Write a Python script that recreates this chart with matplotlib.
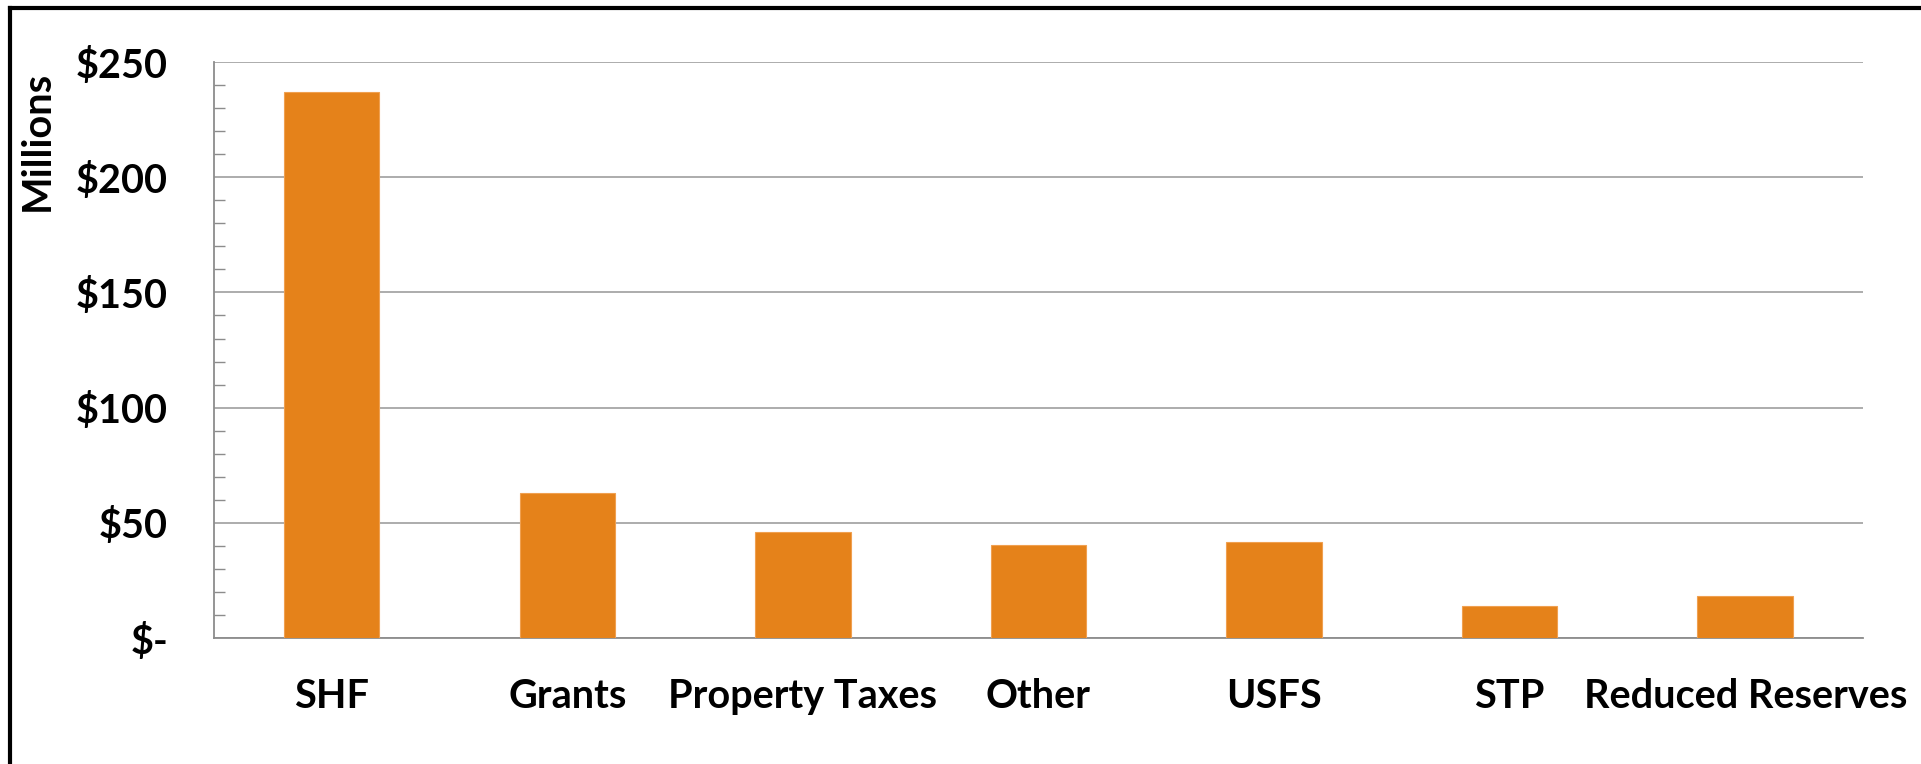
import matplotlib.pyplot as plt
from matplotlib.ticker import MultipleLocator, FuncFormatter
from matplotlib.lines import Line2D

# 数据 (millions of dollars)
categories = ["SHF", "Grants", "Property Taxes", "Other", "USFS", "STP", "Reduced Reserves"]
values = [237.1, 62.8, 46.1, 40.2, 41.8, 13.9, 18.4]

plt.rcParams['font.family'] = ['Lato', 'DejaVu Sans']
plt.rcParams['font.weight'] = 'bold'

fig = plt.figure(figsize=(19.21, 7.64), dpi=100)
ax = fig.add_axes([0.1114, 0.1649, 0.9698 - 0.1114, 0.9188 - 0.1649])

ax.bar(range(len(categories)), values, width=0.405, color='#E5821A', edgecolor='#F0A050', linewidth=0.8, zorder=3)

ax.set_xlim(-0.5, len(categories) - 0.5)
ax.set_ylim(0, 250)
ax.yaxis.set_major_locator(MultipleLocator(50))
ax.yaxis.set_minor_locator(MultipleLocator(10))
ax.yaxis.set_major_formatter(FuncFormatter(lambda v, p: "$-" if v == 0 else f"${v:.0f}"))
ax.grid(axis='y', which='major', color='#a6a6a6', linewidth=1.3, zorder=0)

for s in ['top', 'right']:
    ax.spines[s].set_visible(False)
for s in ['left', 'bottom']:
    ax.spines[s].set_color('#8c8c8c')
    ax.spines[s].set_linewidth(1.3)

ax.tick_params(axis='y', which='major', length=0, pad=33, labelsize=28.5)
ax.tick_params(axis='y', which='minor', direction='in', length=8, width=1.0, color='#8c8c8c')
ax.tick_params(axis='x', length=0, pad=29, labelsize=28.5)
ax.set_xticks(range(len(categories)))
ax.set_xticklabels(categories, fontweight='bold')
for t in ax.get_yticklabels():
    t.set_fontweight('bold')

fig.text(37 / 1921, 1 - 141 / 764, "Millions", rotation=90, ha='center', va='center',
         fontsize=28.5, fontweight='bold')

# 외곽 테두리
fig.add_artist(Line2D([10 / 1921, 10 / 1921], [0, 1 - 8 / 764], transform=fig.transFigure, color='black', linewidth=3))
fig.add_artist(Line2D([10 / 1921, 1], [1 - 8 / 764, 1 - 8 / 764], transform=fig.transFigure, color='black', linewidth=3))

fig.savefig("out.png", dpi=100)
